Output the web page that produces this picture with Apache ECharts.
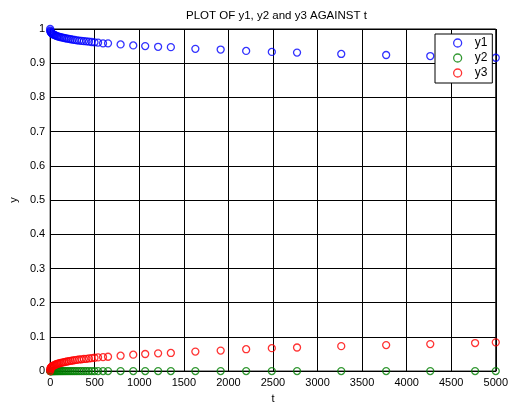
<!DOCTYPE html>
<html>
<head>
<meta charset="utf-8">
<script src="https://cdn.jsdelivr.net/npm/echarts@6/dist/echarts.min.js"></script>
<style>
  html, body { margin: 0; padding: 0; background: #fff; }
  #chart { width: 511px; height: 409px; }
</style>
</head>
<body>
<div id="chart"></div>
<script>
// time steps (solver output)
const tData = [0, 1, 3, 6, 10, 15, 21, 28, 36, 45, 55, 66, 78, 91, 105, 120, 136, 153, 171, 190,
  210, 231, 253, 276, 300, 325, 351, 378, 406, 435, 465, 497, 537, 593, 649, 790, 932, 1066, 1211, 1354,
  1629, 1913, 2199, 2487, 2770, 3266, 3770, 4265, 4768, 5000]

const y1Data = [1, 0.995, 0.993, 0.991, 0.9895, 0.988, 0.9865, 0.985, 0.984, 0.983, 0.982, 0.980, 0.979, 0.978, 0.977, 0.976, 0.975, 0.974, 0.973, 0.972,
  0.971, 0.970, 0.969, 0.968, 0.967, 0.966, 0.9655, 0.9645, 0.964, 0.963, 0.962, 0.961, 0.960, 0.958, 0.958, 0.955, 0.952, 0.950, 0.948, 0.947,
  0.942, 0.940, 0.936, 0.933, 0.931, 0.927, 0.924, 0.921, 0.918, 0.916]

const y2Data = [0, 0.00003, 0.00004, 0.00004, 0.00004, 0.00004, 0.00004, 0.00004, 0.00004, 0.00004, 0.00004, 0.00004, 0.00004, 0.00004, 0.00004, 0.00004, 0.00004, 0.00004, 0.00004, 0.00004,
  0.00004, 0.00004, 0.00004, 0.00004, 0.00004, 0.00004, 0.00004, 0.00004, 0.00004, 0.00004, 0.00004, 0.00004, 0.00004, 0.00004, 0.00004, 0.00004, 0.00004, 0.00004, 0.00004, 0.00004,
  0.00004, 0.00004, 0.00004, 0.00004, 0.00004, 0.00004, 0.00004, 0.00004, 0.00004, 0.00004]

const y3Data = [0, 0.005, 0.007, 0.009, 0.0105, 0.012, 0.0135, 0.015, 0.016, 0.017, 0.018, 0.020, 0.021, 0.022, 0.023, 0.024, 0.025, 0.026, 0.027, 0.028,
  0.029, 0.030, 0.031, 0.032, 0.033, 0.034, 0.0345, 0.0355, 0.036, 0.037, 0.038, 0.039, 0.040, 0.041, 0.042, 0.045, 0.048, 0.050, 0.052, 0.053,
  0.057, 0.060, 0.064, 0.067, 0.069, 0.073, 0.076, 0.079, 0.082, 0.084]

const seriesNames = ['y1', 'y2', 'y3']
const seriesColors = ['#0000ff', '#008000', '#ff0000']

const font = 'Liberation Sans, Arial, sans-serif'

function pairs(ys) {
  return tData.map((t, i) => [t, ys[i]])
}

const chart = echarts.init(document.getElementById('chart'), null, { renderer: 'canvas' })

const series = [y1Data, y2Data, y3Data].map((ys, i) => ({
  name: seriesNames[i],
  type: 'scatter',
  data: pairs(ys),
  symbol: 'circle',
  symbolSize: 7,
  itemStyle: {
    color: 'rgba(0,0,0,0)',
    borderColor: seriesColors[i],
    borderWidth: 1.3
  },
  emphasis: { disabled: true }
}))

chart.setOption({
  animation: false,
  title: {
    text: 'PLOT OF y1, y2 and y3 AGAINST t',
    left: 181,
    top: 5,
    textStyle: { fontFamily: font, fontSize: 11.5, fontWeight: 'normal', color: '#000' }
  },
  legend: {
    orient: 'vertical',
    left: 435,
    top: 34,
    padding: [3, 5, 4, 18],
    itemWidth: 8,
    itemHeight: 8,
    itemGap: 3,
    backgroundColor: '#fff',
    borderColor: '#000',
    borderWidth: 1,
    borderRadius: 0,
    data: seriesNames.map((n, i) => ({
      name: n,
      icon: 'circle',
      itemStyle: { color: 'rgba(0,0,0,0)', borderColor: seriesColors[i], borderWidth: 1.3 }
    })),
    formatter: name => '{n|' + name + '}',
    textStyle: {
      fontFamily: font,
      fontSize: 12,
      color: '#000',
      rich: { n: { padding: [0, 0, 0, 8], fontSize: 12, lineHeight: 14, fontFamily: font } }
    }
  },
  grid: {
    left: 49,
    right: 15,
    top: 29,
    bottom: 28,
    show: true,
    borderColor: '#000',
    borderWidth: 1
  },
  xAxis: {
    type: 'value',
    min: 0,
    max: 5000,
    interval: 500,
    name: 't',
    nameLocation: 'middle',
    nameGap: 15,
    nameTextStyle: { fontFamily: font, fontSize: 11, color: '#000' },
    axisLine: { lineStyle: { color: '#000' } },
    axisTick: { inside: true, length: 4, lineStyle: { color: '#000' } },
    axisLabel: { fontFamily: font, fontSize: 11, color: '#000', margin: 6, formatter: v => String(v) },
    splitLine: { show: true, lineStyle: { color: '#000', width: 1 } }
  },
  yAxis: {
    type: 'value',
    min: 0,
    max: 1,
    interval: 0.1,
    name: 'y',
    nameLocation: 'middle',
    nameGap: 24,
    nameTextStyle: { fontFamily: font, fontSize: 11, color: '#000' },
    axisLine: { show: true, lineStyle: { color: '#000' } },
    axisTick: { show: true, inside: true, length: 4, lineStyle: { color: '#000' } },
    axisLabel: { fontFamily: font, fontSize: 11, color: '#000', margin: 5 },
    splitLine: { show: true, lineStyle: { color: '#000', width: 1 } }
  },
  series: series
})
</script>
</body>
</html>
